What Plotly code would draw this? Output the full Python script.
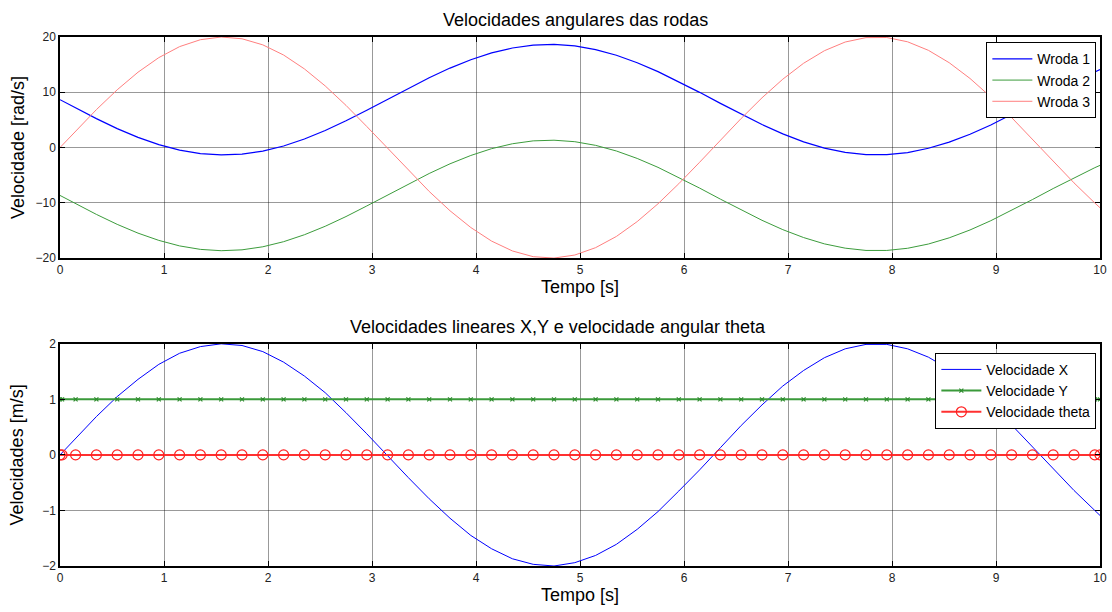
import plotly.graph_objects as go
from plotly.subplots import make_subplots

# sample times (s)
tempo = [0, 0.02, 0.15, 0.35, 0.55, 0.75, 0.95, 1.15, 1.35, 1.55, 1.75, 1.95,
         2.15, 2.35, 2.55, 2.75, 2.95, 3.15, 3.35, 3.55, 3.75, 3.95, 4.15, 4.35,
         4.55, 4.75, 4.95, 5.15, 5.35, 5.55, 5.75, 5.95, 6.15, 6.35, 6.55, 6.75,
         6.95, 7.15, 7.35, 7.55, 7.75, 7.95, 8.15, 8.35, 8.55, 8.75, 8.95, 9.15,
         9.35, 9.55, 9.75, 9.95, 10]

wroda1 = [8.66, 8.46, 7.17, 5.23, 3.43, 1.84, 0.53, -0.47, -1.10, -1.34, -1.18, -0.63,
          0.29, 1.55, 3.08, 4.84, 6.76, 8.74, 10.73, 12.63, 14.38, 15.89, 17.12, 18.01,
          18.53, 18.65, 18.38, 17.72, 16.70, 15.35, 13.74, 11.93, 9.99, 7.99, 6.02, 4.16,
          2.47, 1.04, -0.10, -0.88, -1.29, -1.29, -0.90, -0.13, 0.99, 2.41, 4.09, 5.95,
          7.91, 9.91, 11.85, 13.68, 14.10]

wroda2 = [-8.66, -8.86, -10.15, -12.09, -13.89, -15.48, -16.79, -17.79, -18.42, -18.66, -18.50, -17.95,
          -17.03, -15.77, -14.24, -12.48, -10.56, -8.58, -6.59, -4.69, -2.94, -1.43, -0.20, 0.69,
          1.21, 1.33, 1.06, 0.40, -0.62, -1.97, -3.58, -5.39, -7.33, -9.33, -11.30, -13.16,
          -14.85, -16.28, -17.42, -18.20, -18.61, -18.61, -18.22, -17.45, -16.33, -14.91, -13.23, -11.37,
          -9.41, -7.41, -5.47, -3.64, -3.22]

wroda3 = [0, 0.40, 2.99, 6.86, 10.45, 13.63, 16.27, 18.26, 19.51, 20.00, 19.68, 18.58,
          16.74, 14.23, 11.15, 7.63, 3.81, -0.17, -4.14, -7.94, -11.43, -14.46, -16.92, -18.70,
          -19.74, -19.99, -19.44, -18.11, -16.08, -13.39, -10.17, -6.54, -2.66, 1.34, 5.27, 9.00,
          12.37, 15.25, 17.52, 19.09, 19.89, 19.91, 19.13, 17.59, 15.35, 12.50, 9.15, 5.43,
          1.49, -2.50, -6.39, -10.03, -10.88]

vel_x = [0, 0.04, 0.30, 0.69, 1.05, 1.36, 1.63, 1.83, 1.95, 2.00, 1.97, 1.86,
         1.67, 1.42, 1.12, 0.76, 0.38, -0.02, -0.41, -0.79, -1.14, -1.45, -1.69, -1.87,
         -1.97, -2.00, -1.94, -1.81, -1.61, -1.34, -1.02, -0.65, -0.27, 0.13, 0.53, 0.90,
         1.24, 1.52, 1.75, 1.91, 1.99, 1.99, 1.91, 1.76, 1.54, 1.25, 0.91, 0.54,
         0.15, -0.25, -0.64, -1.00, -1.09]

vel_y = [1] * len(tempo)
vel_theta = [0] * len(tempo)

x_ticks = [0, 1, 2, 3, 4, 5, 6, 7, 8, 9, 10]
y1_ticks = [-20, -10, 0, 10, 20]
y2_ticks = [-2, -1, 0, 1, 2]

FONT = "Liberation Sans, Arial, sans-serif"

fig = make_subplots(rows=2, cols=1)

fig.add_trace(go.Scatter(x=tempo, y=wroda1, name="Wroda 1", mode="lines",
                         line=dict(color="#0000ff", width=1.2), legend="legend"), row=1, col=1)
fig.add_trace(go.Scatter(x=tempo, y=wroda2, name="Wroda 2", mode="lines",
                         line=dict(color="#3c9c3c", width=1), legend="legend"), row=1, col=1)
fig.add_trace(go.Scatter(x=tempo, y=wroda3, name="Wroda 3", mode="lines",
                         line=dict(color="#ff7f7f", width=1), legend="legend"), row=1, col=1)

fig.add_trace(go.Scatter(x=tempo, y=vel_x, name="Velocidade X", mode="lines",
                         line=dict(color="#0000ff", width=1), legend="legend2"), row=2, col=1)
fig.add_trace(go.Scatter(x=tempo, y=vel_y, name="Velocidade Y", mode="lines+markers",
                         line=dict(color="#3a9a3a", width=2),
                         marker=dict(symbol="x-thin", size=4, line=dict(color="#2e8b2e", width=1.2)),
                         legend="legend2"), row=2, col=1)
fig.add_trace(go.Scatter(x=tempo, y=vel_theta, name="Velocidade theta", mode="lines+markers",
                         line=dict(color="#ff3030", width=2),
                         marker=dict(symbol="circle-open", size=10, color="#ff2020", line=dict(width=1.2)),
                         legend="legend2"), row=2, col=1)

axis_common = dict(
    showline=True, linecolor="black", linewidth=1.5, mirror="allticks",
    ticks="inside", ticklen=5, tickcolor="black", automargin=False,
    showgrid=True, gridcolor="rgba(0,0,0,0.4)", gridwidth=1,
    zeroline=False, tickfont=dict(family=FONT, size=12, color="#222"),
)

fig.update_xaxes(**axis_common, range=[0, 10], tickvals=x_ticks,
                 title=dict(text="Tempo [s]", font=dict(family=FONT, size=18, color="black"), standoff=2))
fig.update_yaxes(**axis_common)

fig.update_xaxes(domain=[0, 1], row=1, col=1)
fig.update_xaxes(domain=[0, 1], row=2, col=1)
fig.update_yaxes(domain=[0.582, 1], range=[-20, 20], tickvals=y1_ticks, row=1, col=1,
                 title=dict(text="Velocidade [rad/s]", font=dict(family=FONT, size=18, color="black"), standoff=6))
fig.update_yaxes(domain=[0, 0.42], range=[-2, 2], tickvals=y2_ticks, row=2, col=1,
                 title=dict(text="Velocidades [m/s]", font=dict(family=FONT, size=18, color="black"), standoff=14))

legend_style = dict(bgcolor="white", bordercolor="black", borderwidth=1,
                    font=dict(family=FONT, size=14, color="black"),
                    xanchor="right", yanchor="top", tracegroupgap=0, itemwidth=40)

fig.update_layout(
    width=1112, height=612,
    margin=dict(l=60, r=12, t=37, b=46),
    paper_bgcolor="white", plot_bgcolor="white",
    showlegend=True,
    legend=dict(**legend_style, x=0.9965, y=0.99),
    legend2=dict(**legend_style, x=0.9965, y=0.403),
    annotations=[
        dict(text="Velocidades angulares das rodas", xref="paper", yref="paper",
             x=0.496, y=1.0, yanchor="bottom", yshift=5, showarrow=False,
             font=dict(family=FONT, size=18, color="black")),
        dict(text="Velocidades lineares X,Y e velocidade angular theta", xref="paper", yref="paper",
             x=0.479, y=0.42, yanchor="bottom", yshift=5, showarrow=False,
             font=dict(family=FONT, size=18, color="black")),
    ],
)

# drop the default 8px page margin so the figure fills the window
fig.write_html("out.html", config={"displayModeBar": False},
               post_script="document.body.style.margin='0';")
